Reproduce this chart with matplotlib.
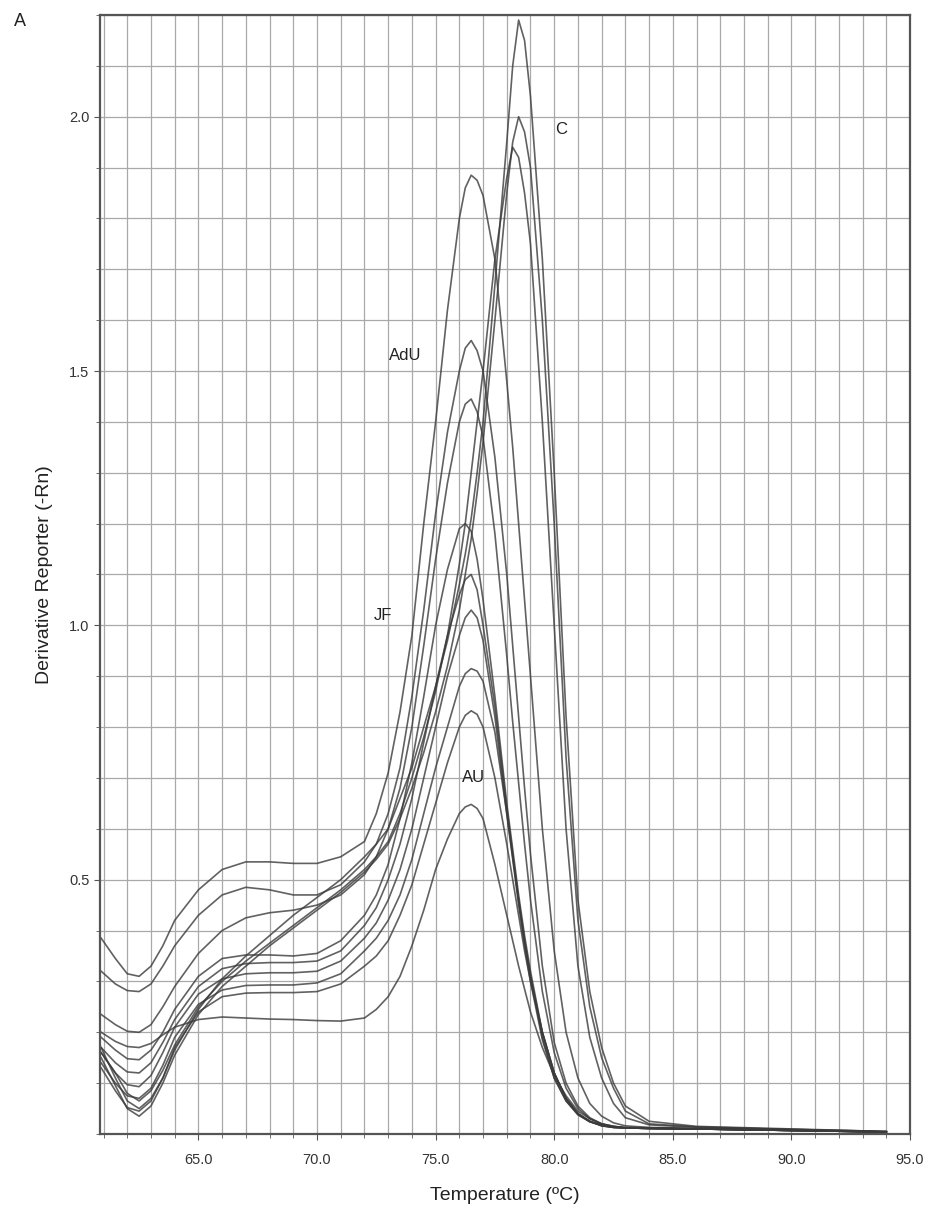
import numpy as np
import matplotlib.pyplot as plt
from matplotlib.ticker import MultipleLocator, FixedLocator, FormatStrFormatter

plt.rcParams['font.family'] = ['Liberation Sans', 'DejaVu Sans']

# temperature grid (degC) shared by all melt curves
temp = [60.9, 61.5, 62, 62.5, 63, 63.5, 64, 65, 66, 67,
        68, 69, 70, 71, 72, 72.5, 73, 73.5, 74, 74.5,
        75, 75.5, 76, 76.25, 76.5, 76.75, 77, 77.5, 78, 78.25,
        78.5, 78.75, 79, 79.5, 80, 80.5, 81, 81.5, 82, 82.5,
        83, 84, 86, 90, 94]

# derivative reporter (-Rn)
c1 = [0.17, 0.11, 0.065, 0.05, 0.07, 0.11, 0.165, 0.245, 0.305, 0.35,
      0.39, 0.43, 0.465, 0.5, 0.545, 0.57, 0.6, 0.66, 0.72, 0.8,
      0.88, 0.97, 1.08, 1.14, 1.21, 1.30, 1.4, 1.67, 1.95, 2.1,
      2.19, 2.15, 2.04, 1.72, 1.3, 0.82, 0.46, 0.28, 0.17, 0.1,
      0.055, 0.025, 0.015, 0.01, 0.005]
c2 = [0.15, 0.095, 0.05, 0.035, 0.055, 0.1, 0.155, 0.235, 0.29, 0.33,
      0.37, 0.405, 0.44, 0.475, 0.515, 0.54, 0.57, 0.62, 0.68, 0.75,
      0.83, 0.92, 1.03, 1.1, 1.17, 1.26, 1.36, 1.6, 1.85, 1.95,
      2.0, 1.97, 1.9, 1.6, 1.2, 0.74, 0.42, 0.25, 0.15, 0.09,
      0.045, 0.02, 0.014, 0.009, 0.005]
c3 = [0.16, 0.12, 0.08, 0.065, 0.085, 0.125, 0.175, 0.25, 0.3, 0.34,
      0.375, 0.41, 0.445, 0.48, 0.52, 0.545, 0.575, 0.63, 0.7, 0.78,
      0.87, 0.98, 1.12, 1.2, 1.3, 1.4, 1.5, 1.72, 1.88, 1.94,
      1.92, 1.85, 1.75, 1.4, 1.0, 0.6, 0.33, 0.19, 0.11, 0.06,
      0.032, 0.018, 0.013, 0.009, 0.005]
adu1 = [0.385, 0.345, 0.315, 0.31, 0.33, 0.37, 0.42, 0.48, 0.52, 0.535,
        0.535, 0.532, 0.532, 0.545, 0.575, 0.63, 0.71, 0.83, 0.98, 1.2,
        1.4, 1.62, 1.8, 1.86, 1.885, 1.875, 1.845, 1.72, 1.48, 1.35,
        1.2, 1.05, 0.9, 0.6, 0.36, 0.2, 0.11, 0.06, 0.035, 0.022,
        0.016, 0.013, 0.011, 0.008, 0.004]
adu2 = [0.32, 0.295, 0.282, 0.28, 0.295, 0.33, 0.37, 0.43, 0.47, 0.485,
        0.48, 0.47, 0.47, 0.49, 0.535, 0.57, 0.63, 0.72, 0.86, 1.03,
        1.22, 1.38, 1.5, 1.545, 1.56, 1.54, 1.5, 1.33, 1.1, 0.96,
        0.82, 0.68, 0.55, 0.33, 0.18, 0.1, 0.055, 0.032, 0.02, 0.015,
        0.013, 0.012, 0.01, 0.007, 0.004]
adu3 = [0.235, 0.215, 0.202, 0.2, 0.215, 0.25, 0.29, 0.355, 0.4, 0.425,
        0.435, 0.44, 0.45, 0.47, 0.51, 0.545, 0.6, 0.68, 0.8, 0.96,
        1.13, 1.28, 1.4, 1.435, 1.445, 1.42, 1.37, 1.18, 0.94, 0.81,
        0.69, 0.57, 0.46, 0.28, 0.16, 0.09, 0.05, 0.03, 0.02, 0.015,
        0.012, 0.011, 0.01, 0.007, 0.004]
jf1 = [0.19, 0.165, 0.148, 0.146, 0.165, 0.2, 0.245, 0.31, 0.345, 0.352,
       0.352, 0.35, 0.355, 0.38, 0.43, 0.47, 0.53, 0.62, 0.73, 0.86,
       1.0, 1.11, 1.19, 1.2, 1.185, 1.13, 1.05, 0.86, 0.65, 0.56,
       0.47, 0.39, 0.32, 0.2, 0.12, 0.07, 0.04, 0.025, 0.018, 0.014,
       0.012, 0.011, 0.01, 0.007, 0.004]
jf2 = [0.17, 0.14, 0.122, 0.12, 0.14, 0.18, 0.225, 0.29, 0.325, 0.335,
       0.337, 0.337, 0.34, 0.36, 0.41, 0.445, 0.5, 0.57, 0.66, 0.77,
       0.88, 0.98, 1.06, 1.09, 1.1, 1.07, 1.0, 0.84, 0.64, 0.55,
       0.46, 0.38, 0.31, 0.19, 0.11, 0.065, 0.038, 0.024, 0.017, 0.013,
       0.012, 0.011, 0.01, 0.007, 0.004]
jf3 = [0.16, 0.12, 0.097, 0.093, 0.115, 0.16, 0.21, 0.275, 0.305, 0.315,
       0.317, 0.317, 0.32, 0.34, 0.385, 0.415, 0.46, 0.52, 0.6, 0.7,
       0.8, 0.9, 0.98, 1.015, 1.03, 1.015, 0.97, 0.82, 0.63, 0.54,
       0.45, 0.37, 0.3, 0.185, 0.11, 0.065, 0.038, 0.024, 0.017, 0.013,
       0.012, 0.011, 0.01, 0.007, 0.004]
au1 = [0.14, 0.1, 0.075, 0.07, 0.09, 0.135, 0.19, 0.255, 0.283, 0.292,
       0.293, 0.293, 0.297, 0.315, 0.36, 0.385, 0.42, 0.47, 0.54, 0.63,
       0.72, 0.8, 0.88, 0.905, 0.915, 0.91, 0.89, 0.79, 0.63, 0.545,
       0.46, 0.38, 0.31, 0.2, 0.12, 0.07, 0.04, 0.025, 0.016, 0.013,
       0.012, 0.011, 0.01, 0.007, 0.004]
au2 = [0.13, 0.085, 0.052, 0.045, 0.065, 0.11, 0.17, 0.24, 0.27, 0.277,
       0.278, 0.278, 0.28, 0.295, 0.33, 0.35, 0.38, 0.43, 0.49, 0.57,
       0.65, 0.73, 0.8, 0.823, 0.832, 0.825, 0.8, 0.7, 0.57, 0.5,
       0.43, 0.36, 0.3, 0.2, 0.12, 0.07, 0.04, 0.025, 0.016, 0.013,
       0.012, 0.011, 0.01, 0.007, 0.004]
au3 = [0.2, 0.182, 0.172, 0.17, 0.178, 0.195, 0.21, 0.225, 0.23, 0.228,
       0.226, 0.225, 0.223, 0.222, 0.228, 0.245, 0.27, 0.31, 0.37, 0.44,
       0.52, 0.58, 0.63, 0.643, 0.648, 0.64, 0.62, 0.53, 0.43, 0.38,
       0.33, 0.285, 0.24, 0.17, 0.115, 0.075, 0.045, 0.03, 0.02, 0.015,
       0.012, 0.011, 0.01, 0.007, 0.004]

curves = [c1, c2, c3, adu1, adu2, adu3, jf1, jf2, jf3, au1, au2, au3]

# group labels and where they sit (temp, value)
labels = ['C', 'AdU', 'JF', 'AU']
label_x = [80.3, 73.7, 72.8, 76.6]
label_y = [1.975, 1.53, 1.02, 0.70]

fig = plt.figure(figsize=(9.3, 12.17), dpi=100)
ax = fig.add_axes([0.1075, 0.0682, 0.871, 0.9195])

ax.set_xlim(60.85, 95)
ax.set_ylim(0, 2.2)
ax.xaxis.set_major_locator(MultipleLocator(5))
ax.xaxis.set_minor_locator(MultipleLocator(1))
ax.yaxis.set_major_locator(FixedLocator([0.5, 1.0, 1.5, 2.0]))
ax.yaxis.set_minor_locator(MultipleLocator(0.1))
ax.xaxis.set_major_formatter(FormatStrFormatter('%.1f'))
ax.yaxis.set_major_formatter(FormatStrFormatter('%.1f'))

ax.grid(which='both', color='#a9a9a9', lw=0.9)
ax.set_axisbelow(True)
for s in ax.spines.values():
    s.set_color('#555555')
    s.set_linewidth(1.6)
ax.tick_params(which='both', direction='out', colors='#555555', labelcolor='#333333',
               labelsize=10.5)
ax.tick_params(which='major', length=4)
ax.tick_params(which='minor', length=3)
ax.tick_params(axis='x', pad=10)

for y in curves:
    ax.plot(temp, y, color='#3a3a3a', lw=1.2, alpha=0.8)

for t, x, y in zip(labels, label_x, label_y):
    ax.text(x, y, t, fontsize=12, ha='center', va='center', color='#222222')

ax.set_xlabel('Temperature (ºC)', fontsize=14, color='#222222', labelpad=14)
ax.set_ylabel('Derivative Reporter (-Rn)', fontsize=14, color='#222222', labelpad=12)
fig.text(0.022, 0.982, 'A', fontsize=13, color='#222222', ha='center', va='center')

fig.savefig('out.png', dpi=100)
